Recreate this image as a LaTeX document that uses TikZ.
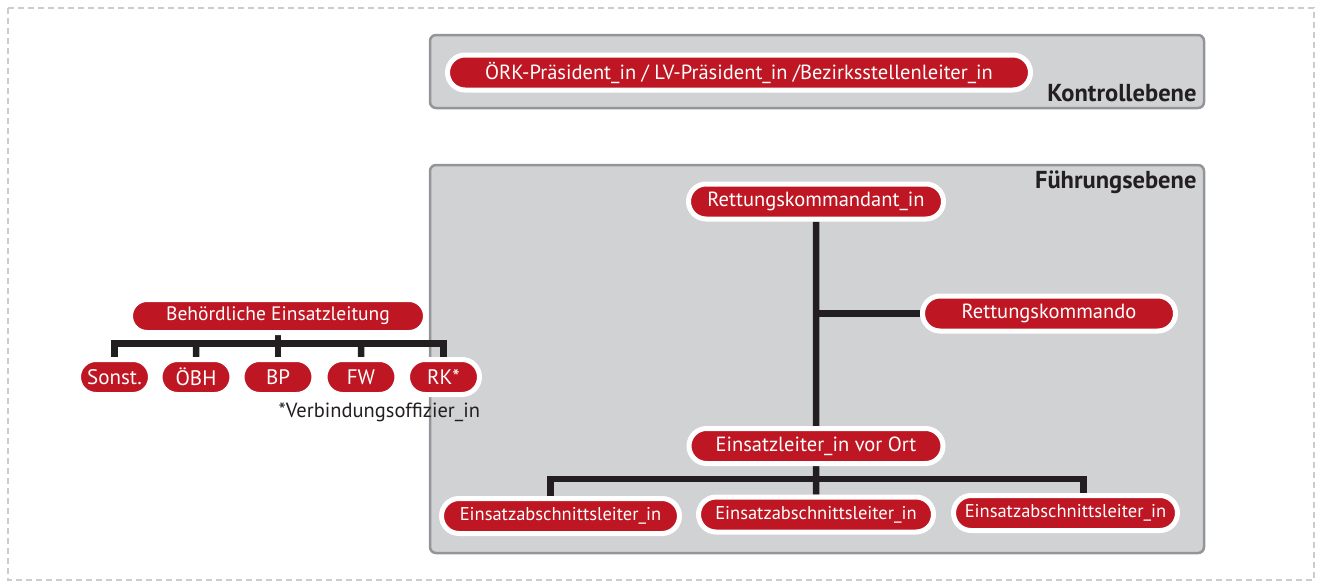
\documentclass[tikz,border=0pt]{standalone}
\usepackage{fontspec}
\setmainfont{PT Sans}
\usetikzlibrary{shapes.misc}
\definecolor{rkred}{HTML}{BE1622}
\definecolor{boxgray}{HTML}{D1D2D4}
\definecolor{boxline}{HTML}{939598}
\definecolor{linedark}{HTML}{231F20}
\definecolor{dashgray}{HTML}{CCCCCC}
\pgfdeclarelayer{back}
\pgfdeclarelayer{lines}
\pgfsetlayers{back,lines,main}

\begin{document}
\begin{tikzpicture}[x=1pt,y=-1pt,
  pill/.style={rounded rectangle,fill=rkred,draw=white,line width=5pt,text=white,inner sep=0pt,minimum height=35pt,font=\fontsize{20.5}{23}\selectfont},
  smallpill/.style={pill,minimum width=72pt,font=\fontsize{21}{24}\selectfont},
  sectionpill/.style={pill,font=\fontsize{18.5}{21}\selectfont},
  conn/.style={draw=linedark,line width=6.5pt},
  levelbox/.style={fill=boxgray,draw=boxline,line width=2.5pt,rounded corners=6pt},
  levellabel/.style={anchor=base east,text=linedark,font=\fontsize{24.5}{27}\selectfont\bfseries}]
\useasboundingbox (0,0) rectangle (1322,587);
%Frame
\draw[dashgray,line width=2pt,dash pattern=on 6pt off 4pt] (8,8) rectangle (1314,580);
%Levels
\begin{pgfonlayer}{back}
\draw[levelbox] (430,35) rectangle (1204,108);
\draw[levelbox] (430,165) rectangle (1204,553);
\end{pgfonlayer}
\node at (1200,101) [levellabel] (Kontrolle) {Kontrollebene};
\node at (1200,188) [levellabel] (Fuehrung) {Führungsebene};
%Node Coordinates
\node at (739,72.5) [pill,minimum width=583pt] (Praesident) {ÖRK-Präsident\_in / LV-Präsident\_in /Bezirksstellenleiter\_in};
\node at (816,201.5) [pill,minimum width=255pt] (Kommandant) {Rettungskommandant\_in};
\node at (1049,313.5) [pill,minimum width=253pt] (Kommando) {Rettungskommando};
\node at (816,446) [pill,minimum width=254pt] (Einsatzleiter) {Einsatzleiter\_in vor Ort};
\node at (560.5,516) [sectionpill,minimum width=238pt] (Abschnitt1) {Einsatzabschnittsleiter\_in};
\node at (816,514.5) [sectionpill,minimum width=235pt] (Abschnitt2) {Einsatzabschnittsleiter\_in};
\node at (1065.5,513) [sectionpill,minimum width=224pt] (Abschnitt3) {Einsatzabschnittsleiter\_in};
\node at (278,316) [pill,minimum width=295pt,minimum height=33pt,font=\fontsize{19.5}{22}\selectfont] (Behoerde) {Behördliche Einsatzleitung};
\node at (114.5,377) [smallpill] (Sonst) {Sonst.};
\node at (196,377) [smallpill] (OEBH) {ÖBH};
\node at (278,377) [smallpill] (BP) {BP};
\node at (361,377) [smallpill] (FW) {FW};
\node at (443.5,377) [smallpill] (RK) {RK*};
\node at (275,412) [anchor=west,text=linedark,font=\fontsize{20.5}{23}\selectfont] (Verbindung) {*Verbindungsoffizier\_in};
%connections
\coordinate (BusRight) at (816,479);
\coordinate (BusLeft) at (278,343.5);
\begin{pgfonlayer}{lines}
\draw[conn] (Kommandant) -- (Einsatzleiter);
\draw[conn] (Kommandant |- Kommando) -- (Kommando);
\draw[conn] ([xshift=-10pt]Abschnitt1.center) |- (BusRight) -| ([xshift=18pt]Abschnitt3.center);
\draw[conn] (Einsatzleiter) -- (Abschnitt2);
\draw[conn] (Sonst) |- (BusLeft) -| (RK);
\draw[conn] (OEBH) -- (OEBH |- BusLeft);
\draw[conn] (FW) -- (FW |- BusLeft);
\draw[conn] (Behoerde) -- (BP);
\end{pgfonlayer}
\end{tikzpicture}
\end{document}
